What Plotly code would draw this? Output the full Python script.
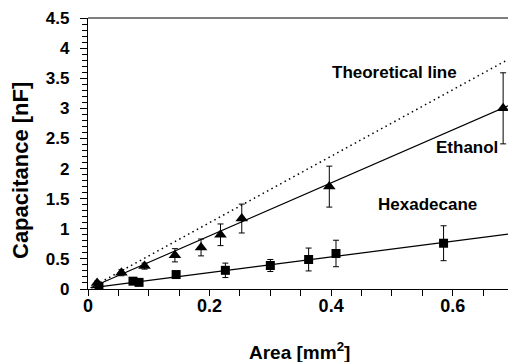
import plotly.graph_objects as go

# Ethanol data (triangles)
eth_x = [0.015, 0.055, 0.093, 0.143, 0.186, 0.218, 0.253, 0.397, 0.683]
eth_y = [0.10, 0.27, 0.38, 0.56, 0.69, 0.90, 1.17, 1.70, 3.00]
eth_err = [0.03, 0.05, 0.05, 0.11, 0.14, 0.18, 0.24, 0.34, 0.59]

# Hexadecane data (squares)
hex_x = [0.018, 0.074, 0.084, 0.145, 0.226, 0.300, 0.363, 0.408, 0.585]
hex_y = [0.04, 0.13, 0.11, 0.24, 0.31, 0.39, 0.49, 0.59, 0.76]
hex_err = [0.02, 0.02, 0.02, 0.03, 0.12, 0.10, 0.19, 0.22, 0.29]

# Fit lines and theoretical line (end points)
eth_fit_x = [0.004, 0.691]
eth_fit_y = [0.02, 3.04]
hex_fit_x = [0.005, 0.691]
hex_fit_y = [0.02, 0.91]
theo_x = [0.013, 0.691]
theo_y = [0.07, 3.81]

x_ticks = [0, 0.2, 0.4, 0.6]
x_ticktext = ["0", "0.2", "0.4", "0.6"]
x_range = [0, 0.691]

FONT = "Liberation Sans"
W, H = 508, 362
L, R, T, B = 88, 0, 18, 73
PW, PH = W - L - R, H - T - B

fig = go.Figure()
fig.add_trace(go.Scatter(x=theo_x, y=theo_y, mode="lines",
                         line=dict(color="black", width=1.5, dash="1.5px,3.5px"),
                         showlegend=False, hoverinfo="skip"))
fig.add_trace(go.Scatter(x=eth_fit_x, y=eth_fit_y, mode="lines",
                         line=dict(color="black", width=1.2),
                         showlegend=False, hoverinfo="skip"))
fig.add_trace(go.Scatter(x=hex_fit_x, y=hex_fit_y, mode="lines",
                         line=dict(color="black", width=1.2),
                         showlegend=False, hoverinfo="skip"))
fig.add_trace(go.Scatter(x=eth_x, y=eth_y, mode="markers",
                         marker=dict(symbol="triangle-up", size=11, color="black"),
                         error_y=dict(type="data", array=eth_err, color="black",
                                      thickness=1, width=3),
                         showlegend=False))
fig.add_trace(go.Scatter(x=hex_x, y=hex_y, mode="markers",
                         marker=dict(symbol="square", size=9, color="black"),
                         error_y=dict(type="data", array=hex_err, color="black",
                                      thickness=1, width=3),
                         showlegend=False))

fig.update_layout(
    width=W, height=H,
    margin=dict(l=L, r=R, t=T, b=B),
    paper_bgcolor="white", plot_bgcolor="white",
    font=dict(family=FONT, color="black"),
    showlegend=False,
    xaxis=dict(
        range=x_range, tickvals=x_ticks, ticktext=x_ticktext,
        showgrid=False, zeroline=False, showline=True, linecolor="black", linewidth=1.2,
        ticks="outside", ticklen=0, tickcolor="black", tickwidth=1,
        tickfont=dict(family=FONT, size=18, color="black", weight="bold"),
        minor=dict(dtick=0.05, tick0=0, ticks="outside", ticklen=6,
                   tickcolor="black", tickwidth=1, showgrid=False),
    ),
    # overlay axis that only draws the major tick marks
    xaxis2=dict(
        range=x_range, tickvals=x_ticks, overlaying="x", anchor="y", side="bottom",
        showgrid=False, zeroline=False, showline=False, showticklabels=False,
        ticks="outside", ticklen=6, tickcolor="black", tickwidth=1,
    ),
    yaxis=dict(
        range=[0, 4.5], dtick=0.5, tick0=0,
        showgrid=False, zeroline=False, showline=True, linecolor="black", linewidth=1.2,
        ticks="outside", ticklen=7, tickcolor="black", tickwidth=1,
        tickfont=dict(family=FONT, size=17, color="black", weight="bold"),
        ticklabelstandoff=7,
        minor=dict(dtick=0.1, tick0=0, ticks="outside", ticklen=5,
                   tickcolor="black", tickwidth=1, showgrid=False),
    ),
)
# dummy invisible trace so the overlay axis is rendered
fig.add_trace(go.Scatter(x=[], y=[], xaxis="x2", yaxis="y", showlegend=False))

# top border line
fig.add_shape(type="line", xref="paper", yref="paper", x0=0, x1=1, y0=1, y1=1,
              line=dict(color="#555555", width=1.5))


def pix(ax, ay):
    return dict(x=(ax - L) / PW, y=(H - B - ay) / PH, xref="paper", yref="paper")


ann_font = dict(family=FONT, size=17, color="black", weight="bold")
fig.add_annotation(text="Theoretical line", showarrow=False, font=ann_font,
                   xanchor="center", yanchor="middle", **pix(394, 72))
fig.add_annotation(text="Ethanol", showarrow=False, font=ann_font,
                   xanchor="center", yanchor="middle", **pix(467, 147))
fig.add_annotation(text="Hexadecane", showarrow=False, font=ann_font,
                   xanchor="center", yanchor="middle", **pix(427, 204))
fig.add_annotation(text="Area [mm<sup>2</sup>]", showarrow=False,
                   font=dict(family=FONT, size=19, color="black", weight="bold"),
                   xanchor="center", yanchor="middle", **pix(299, 351))
fig.add_annotation(text="Capacitance [nF]", showarrow=False, textangle=-90,
                   font=dict(family=FONT, size=22, color="black", weight="bold"),
                   xanchor="center", yanchor="middle", **pix(20, 171))

fig.write_html("out.html")
